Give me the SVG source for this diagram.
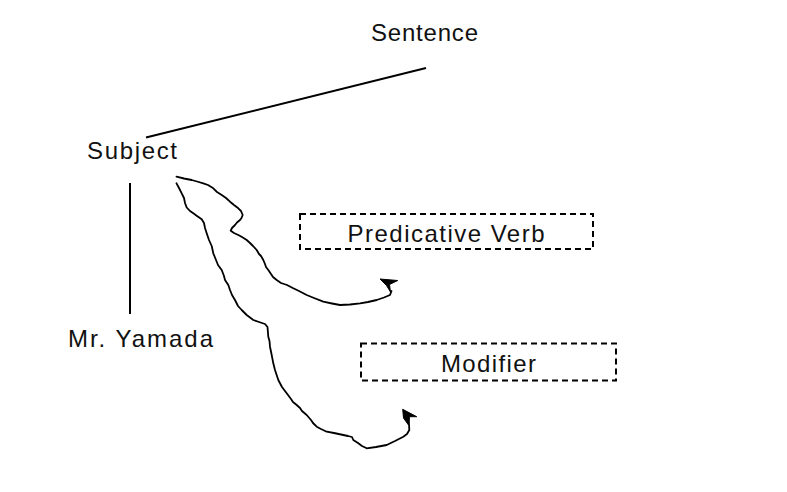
<svg xmlns="http://www.w3.org/2000/svg" width="787" height="492" viewBox="0 0 787 492">
<style>
.lbl{font-family:"Liberation Sans",Arial,sans-serif;font-size:24px;fill:#111}
.ln{stroke:#000;stroke-width:2;fill:none}
.sk{stroke:#000;stroke-width:1.8;fill:none;stroke-linejoin:round;stroke-linecap:round}
.box{stroke:#000;stroke-width:2;fill:none;stroke-dasharray:6 4}
.ah{fill:#000;stroke:#000;stroke-width:1;stroke-linejoin:round}
</style>
<rect width="787" height="492" fill="#fff"/>
<g id="connectors">
<line class="ln" x1="146" y1="137.5" x2="426" y2="68"/>
<line class="ln" x1="130" y1="183" x2="130" y2="314"/>
<polyline class="sk" points="176.5,176.7 184,178.5 191.7,180 197,181.5 203.3,183.3 208,185 213.3,188.3 217,192 221.7,195 226,198 230,201.7 234,205 238.3,208.3 241,211 242.7,215 241.5,218 240,220 237,222.5 235,225 232,228 230.7,230.7 234,233 238.3,235 242,237 246.7,240 250,243 253,246 256.7,250 259,254 261,256 263.3,260 265,264 266,267 268.3,270 271,274 273,277 276.7,280 281,283 287,285 293.3,288.3 299,291 306.7,295 314,298 323.3,301.7 332,303.5 340,305 350,304.5 360,303.3 368,302 376.7,300 384,297.5 390,295 391.5,291"/>
<path class="ah" d="M380,279 L397.7,280.5 L389.5,284.5 L390.5,292 L386.5,285.5 Z"/>
<polyline class="sk" points="176.5,183.3 179,188 181.7,193.3 184,198 185,203 186.7,207.5 190,211 193.3,213.3 197,216 201.7,219.3 204,223 205,228 206.7,233.3 209,240 211.7,246 213.3,253.3 216,260 218,265 221.7,270 224,276 225,280 228.3,285 230,290 232,295 235,300 238,306 241.7,310 246.7,315 253.3,320 259,322 265,324 267.5,327 268.3,336.7 269.5,341 270,346.7 271.7,355 273.3,363.3 275,370 278.3,380 282,387 286.7,393.3 291,399 293,402 296.7,405 300,408 302,411 306.7,415 311,420 313,423 316.7,426.7 321,429 326.7,431.7 334,433 343.3,435 348,436 352,437 353.3,440 358,443 362,446 366.7,448.3 376,447 386.7,445 395,441 403.3,436.7 407,434 409.3,430 409,424 408.5,418"/>
<path class="ah" d="M402.7,409.3 L416.7,416.7 L409.5,416.7 L408.5,425 L403.5,418 Z"/>
</g>
<g id="sentence"><text class="lbl" x="371" y="41" textLength="107" lengthAdjust="spacing">Sentence</text></g>
<g id="subject"><text class="lbl" x="87" y="159" textLength="90" lengthAdjust="spacing">Subject</text></g>
<g id="mr-yamada"><text class="lbl" x="68" y="347" textLength="145" lengthAdjust="spacing">Mr. Yamada</text></g>
<g id="predicative-verb">
<rect class="box" x="300" y="214" width="293" height="35"/>
<text class="lbl" x="347.5" y="242" textLength="197" lengthAdjust="spacing">Predicative Verb</text>
</g>
<g id="modifier">
<rect class="box" x="361" y="343.5" width="255" height="37"/>
<text class="lbl" x="441" y="372" textLength="95" lengthAdjust="spacing">Modifier</text>
</g>
</svg>
